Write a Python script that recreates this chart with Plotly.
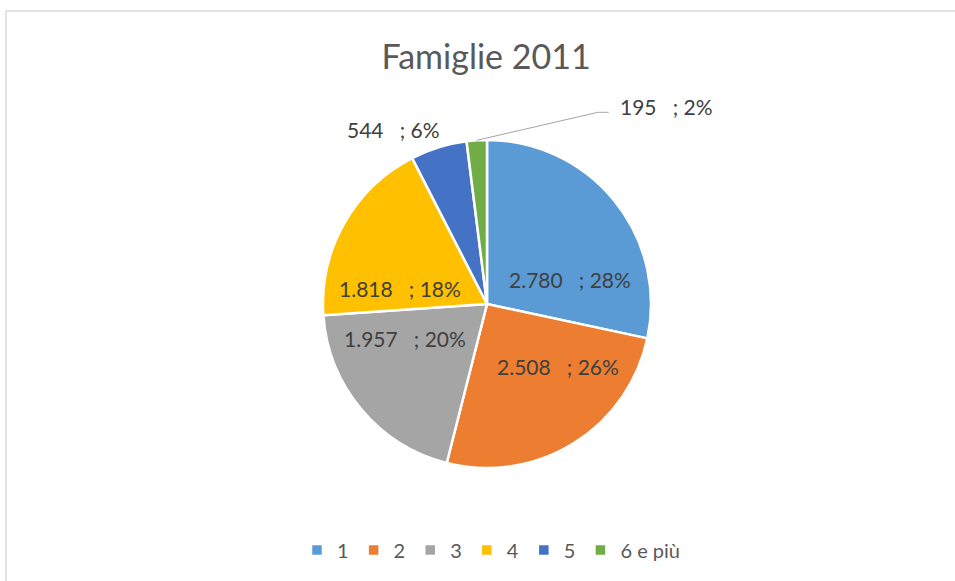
import math
import plotly.graph_objects as go

categories = ["1", "2", "3", "4", "5", "6 e più"]
values = [2780, 2508, 1957, 1818, 544, 195]
pct_labels = ["28%", "26%", "20%", "18%", "6%", "2%"]
colors = ["#5B9BD5", "#ED7D31", "#A5A5A5", "#FFC000", "#4472C4", "#70AD47"]
title_text = "Famiglie 2011"

W, H = 955, 581
FONT = "Lato, 'Open Sans', sans-serif"
NB = "\u00a0"
LBL_SIZE = 21
LBL_COLOR = "#404040"

def fmt_it(v):
    return f"{v:,}".replace(",", ".")

labels_txt = [f"{fmt_it(v)}{NB * 3};{NB}{p}" for v, p in zip(values, pct_labels)]

# pie geometry (pixels)
cx, cy, R = 487, 304, 164
dom_x = [(cx - R) / W, (cx + R) / W]
dom_y = [(H - cy - R) / H, (H - cy + R) / H]

fig = go.Figure(go.Pie(
    labels=categories,
    values=values,
    textinfo="none",
    marker=dict(colors=colors, line=dict(color="white", width=2.5)),
    sort=False,
    direction="clockwise",
    rotation=0,
    domain=dict(x=dom_x, y=dom_y),
    hoverinfo="none",
))

total = sum(values)
cum = 0
mids = []
for v in values:
    mids.append((cum + v / 2) / total * 2 * math.pi)
    cum += v

def px_to_paper(x, y):
    return x / W, 1 - y / H

annotations = []
shapes = []

# inside labels: (dx, dy) placement relative to the pie centre, per slice
inside_offsets = [(83, -25), (71, 62), (-82, 34), (-87, -16)]
for txt, (dx, dy) in zip(labels_txt[:4], inside_offsets):
    px, py = px_to_paper(cx + dx, cy + dy)
    annotations.append(dict(x=px, y=py, xref="paper", yref="paper", text=txt,
                            showarrow=False, xanchor="center", yanchor="middle",
                            font=dict(size=LBL_SIZE, color=LBL_COLOR, family=FONT)))

# label for slice 5 (outside, no leader)
a5 = mids[4]
x5 = cx + 1.09 * R * math.sin(a5)
y5 = cy - 1.09 * R * math.cos(a5)
px, py = px_to_paper(x5 + 8, y5 - 4)
annotations.append(dict(x=px, y=py, xref="paper", yref="paper", text=labels_txt[4],
                        showarrow=False, xanchor="right", yanchor="middle",
                        font=dict(size=LBL_SIZE, color=LBL_COLOR, family=FONT)))

# label for slice 6 with leader line
a6 = mids[5]
ex = cx + R * math.sin(a6)
ey = cy - R * math.cos(a6)
bx, by = ex + 121, ey - 28
tx, ty = bx + 11, by
p0 = px_to_paper(ex, ey)
p1 = px_to_paper(bx, by)
p2 = px_to_paper(tx, ty)
shapes.append(dict(type="path", xref="paper", yref="paper",
                   path=f"M {p0[0]},{p0[1]} L {p1[0]},{p1[1]} L {p2[0]},{p2[1]}",
                   line=dict(color="#A6A6A6", width=1)))
lx, ly = px_to_paper(tx + 9, ty - 6)
annotations.append(dict(x=lx, y=ly, xref="paper", yref="paper", text=labels_txt[5],
                        showarrow=False, xanchor="left", yanchor="middle",
                        font=dict(size=LBL_SIZE, color=LBL_COLOR, family=FONT)))

# chart border
b0 = px_to_paper(6, 11)
shapes.append(dict(type="rect", xref="paper", yref="paper",
                   x0=b0[0], y0=b0[1], x1=1.02, y1=-0.02,
                   line=dict(color="#D9D9D9", width=1.5)))

fig.update_layout(
    width=W, height=H,
    margin=dict(l=0, r=0, t=0, b=0),
    paper_bgcolor="white",
    plot_bgcolor="white",
    title=dict(text=title_text, x=486 / W, xanchor="center", y=1 - 57 / H, yanchor="middle",
               font=dict(size=34, color="#595959", family=FONT)),
    legend=dict(orientation="h", x=491 / W, xanchor="center", y=1 - 550 / H, yanchor="middle",
                font=dict(size=20, color="#595959", family=FONT),
                itemwidth=30, tracegroupgap=0),
    annotations=annotations,
    shapes=shapes,
)

fig.write_html("out.html", config={"displayModeBar": False},
               post_script="document.body.style.margin='0';")
